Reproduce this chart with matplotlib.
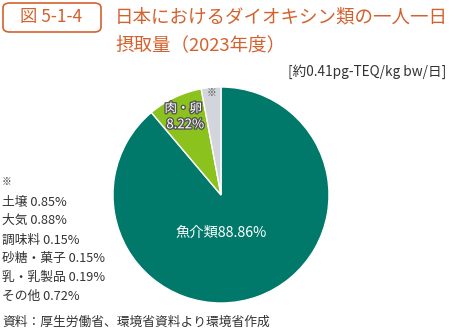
import matplotlib
matplotlib.use("Agg")
import matplotlib.pyplot as plt
from matplotlib.patches import FancyBboxPatch
import matplotlib.patheffects as pe

plt.rcParams['font.family'] = ['Noto Sans CJK JP', 'DejaVu Sans']

categories = ['魚介類', '肉・卵', '※']
values = [88.86, 8.22, 2.94]
colors = ['#00796A', '#8CC21E', '#D3D5DC']
other_labels = ['土壌 0.85%', '大気 0.88%', '調味料 0.15%', '砂糖・菓子 0.15%', '乳・乳製品 0.19%', 'その他 0.72%']
title1 = '日本におけるダイオキシン類の一人一日'
title2 = '摂取量（2023年度）'
fig_no = '図 5-1-4'
unit = '[約0.41pg-TEQ/kg bw/日]'
source = '資料：厚生労働省、環境省資料より環境省作成'

W, H = 454, 329
fig = plt.figure(figsize=(W/100, H/100), dpi=100)
orange = '#D4622E'
dark = '#333333'

def fx(x): return x / W
def fy(y): return 1 - y / H

# header box
box = FancyBboxPatch((fx(3), fy(32)), fx(98), (32-3)/H,
                     boxstyle="round,pad=0,rounding_size=0.015",
                     transform=fig.transFigure, fill=False, edgecolor=orange, linewidth=1.2)
fig.patches.append(box)
fig.text(fx(51), fy(17), fig_no, color=orange, fontsize=12.5, ha='center', va='center')
fig.text(fx(115), fy(17), title1, color=orange, fontsize=13.3, ha='left', va='center')
fig.text(fx(115), fy(45), title2, color=orange, fontsize=13.3, ha='left', va='center')
fig.text(fx(446), fy(72), unit, color=dark, fontsize=9.8, ha='right', va='center')

# pie
cx, cy, r = 221, 195, 108
ax = fig.add_axes([fx(cx - r), fy(cy + r), 2*r/W, 2*r/H])
ax.pie(values, colors=colors, startangle=90, counterclock=False,
       wedgeprops=dict(edgecolor='white', linewidth=1))
ax.set_xlim(-1, 1); ax.set_ylim(-1, 1)
ax.set_aspect('auto')
ax.axis('off')

ax.text(0.0, -0.35, f'{categories[0]}{values[0]:.2f}%', color='white', fontsize=10.3,
        ha='center', va='center')
stroke = [pe.withStroke(linewidth=2, foreground='#555555')]
ax.text(-0.35, 0.80, categories[1], color='white', fontsize=9, ha='center', va='center',
        path_effects=stroke)
ax.text(-0.33, 0.65, f'{values[1]:.2f}%', color='white', fontsize=9.5, ha='center', va='center',
        path_effects=stroke)
ax.text(-0.09, 0.94, categories[2], color='#555555', fontsize=7, ha='center', va='center')

# left notes
fig.text(fx(2), fy(182), '※', color=dark, fontsize=7, ha='left', va='center')
ys = [202, 220, 240, 258, 277, 296]
for y, t in zip(ys, other_labels):
    fig.text(fx(2), fy(y), t, color=dark, fontsize=9.2, ha='left', va='center')
fig.text(fx(2), fy(322), source, color=dark, fontsize=9.2, ha='left', va='center')

fig.savefig('out.png', dpi=100)
